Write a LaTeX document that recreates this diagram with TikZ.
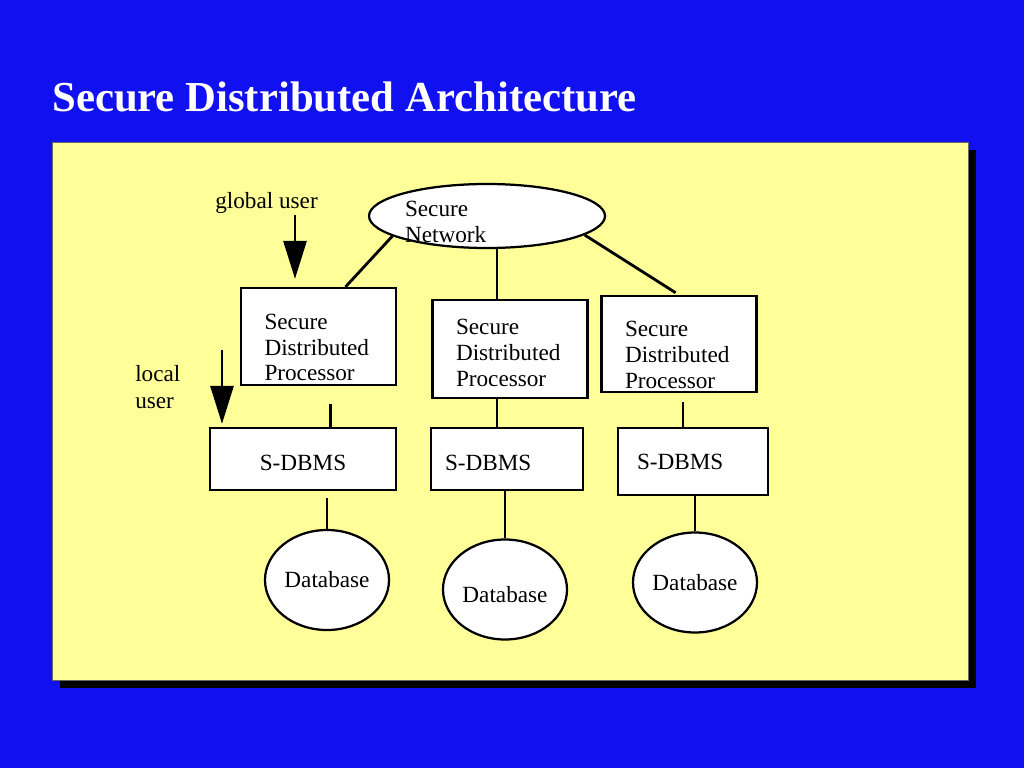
\documentclass[tikz,border=0pt]{standalone}
\usepackage{fontspec}
\setmainfont{Liberation Serif}
\usetikzlibrary{arrows.meta,shapes.geometric}
\newlength\px
\setlength\px{0.025cm}
\definecolor{slideblue}{RGB}{16,16,240}
\definecolor{panelyellow}{RGB}{255,255,153}

\begin{document}
\begin{tikzpicture}[x=0.025cm,y=-0.025cm,
		txt/.style={font=\fontsize{16.5}{18.4}\selectfont, inner sep=0pt},
		drop/.style={execute at begin node={\rule{0pt}{#1}}},
		proc/.style={txt, draw, fill=white, line width=1.6pt, minimum width=155\px, minimum height=97\px, text width=108\px, align=left},
		dbms/.style={txt, draw, fill=white, line width=1.6pt, minimum height=62\px},
		store/.style={txt, draw, fill=white, ellipse, line width=1.6pt, minimum width=124\px, minimum height=100\px},
		link/.style={line width=2pt},
		user/.style={line width=2pt, -{Triangle[length=0.95cm,width=0.575cm]}}]
	% slide and panel
	\fill[slideblue] (0,0) rectangle (1024,768);
	\node[anchor=base west, inner sep=0pt, text=white, font=\fontsize{30.4}{36}\selectfont\bfseries] (title) at (52,112) {Secure Distributed Architecture};
	\fill[black] (60,150) rectangle (976,688);
	\draw[fill=panelyellow, draw=black!60, line width=0.5pt] (52,142) rectangle (968,680);

	\node[txt, draw, fill=white, ellipse, line width=1.6pt, inner ysep=-0.105cm, minimum width=236\px, minimum height=64\px, text width=164\px, align=left, drop=19.5pt] (net) at (487,216) {Secure\\Network};

	\node[proc, drop=26.5pt] (sdp1) at (318.5,336.5) {Secure\\Distributed\\Processor};
	\node[proc, minimum height=98\px, drop=16pt] (sdp2) at (510,349) {Secure\\Distributed\\Processor};
	\node[proc, minimum height=96\px, drop=26.5pt] (sdp3) at (679,344) {Secure\\Distributed\\Processor};

	\node[dbms, minimum width=186\px, drop=16.5pt] (dbms1) at (303,459) {S-DBMS};
	\node[dbms, inner xsep=14\px, text width=124\px, align=left, drop=16.5pt] (dbms2) at (507,459) {S-DBMS};
	\node[dbms, inner xsep=19\px, text width=112\px, align=left, minimum height=67\px] (dbms3) at (693,461.5) {S-DBMS};

	\node[store] (db1) at (327,580) {Database};
	\node[store, drop=18pt] (db2) at (505,589.5) {Database};
	\node[store] (db3) at (695,582.5) {Database};

	\node[txt, anchor=base west] (glob) at (215,208) {global user};
	\node[txt, anchor=base west, align=left, font=\fontsize{16.5}{19}\selectfont] (loc) at (135,408) {local\\user};
	\coordinate (gu) at (295,215);
	\coordinate (lu) at (222,350);

	\draw[link] (net.192.5) -- ([xshift=0.675cm]sdp1.north);
	\draw[link] ([xshift=0.25cm]net.south) -- ([xshift=0.25cm]net.south |- sdp2.north);
	\draw[link, shorten >=0.1cm] (net.-11) -- (sdp3.north);
	\draw[link, shorten <=0.45cm] ([xshift=0.3cm]sdp1.south) -- ([xshift=0.3cm]sdp1.south |- dbms1.north);
	\draw[link] ([xshift=-0.325cm]sdp2.south) -- ([xshift=-0.325cm]sdp2.south |- dbms2.north);
	\draw[link, shorten <=0.225cm] ([xshift=0.1cm]sdp3.south) -- ([xshift=0.1cm]sdp3.south |- dbms3.north);
	\draw[link, shorten <=0.175cm] (db1.north |- dbms1.south) -- (db1.north);
	\draw[link] (db2.north |- dbms2.south) -- (db2.north);
	\draw[link] (db3.north |- dbms3.south) -- (db3.north);

	\draw[user, shorten >=0.2cm] (gu) -- (gu |- sdp1.north);
	\draw[user, shorten >=0.075cm] (lu) -- (lu |- dbms1.north);
\end{tikzpicture}
\end{document}
